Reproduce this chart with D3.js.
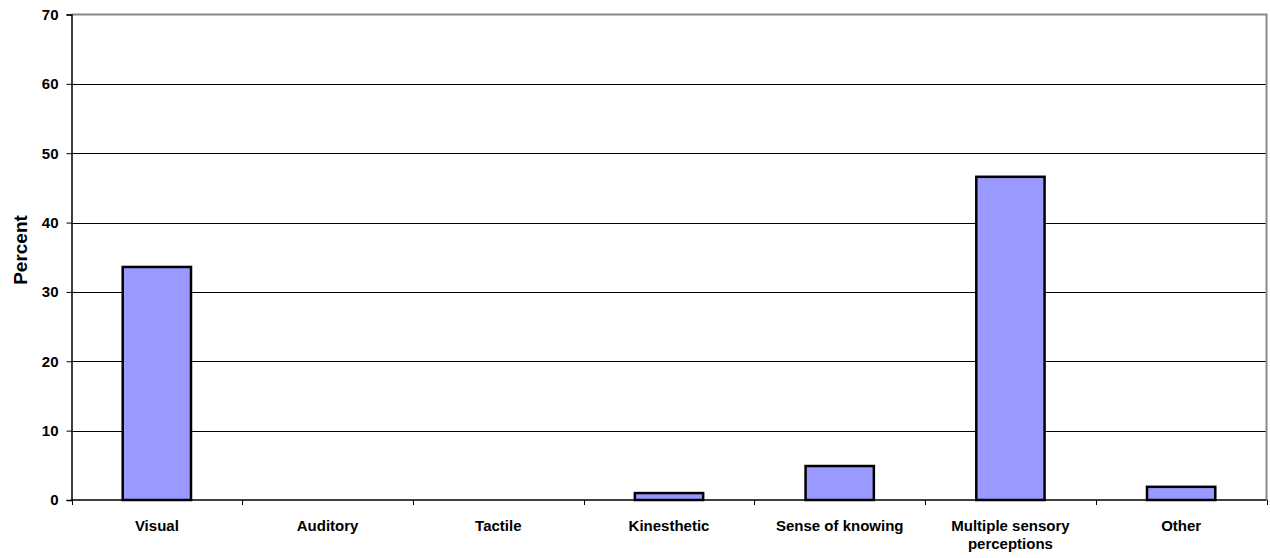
<!DOCTYPE html>
<html>
<head>
<meta charset="utf-8">
<script src="https://cdn.jsdelivr.net/npm/d3@7"></script>
<style>
  html, body { margin: 0; padding: 0; background: #fff; }
  svg { display: block; font-family: "Liberation Sans", Arial, sans-serif; }
</style>
</head>
<body>
<svg id="chart" width="1270" height="558"></svg>
<script>
// Share of respondents by type of sensory perception
const categories = ["Visual", "Auditory", "Tactile", "Kinesthetic", "Sense of knowing", "Multiple sensory perceptions", "Other"];
const percentValues = [33.6, 0, 0, 1.0, 4.9, 46.6, 1.9];
const yTicks = [0, 10, 20, 30, 40, 50, 60, 70];
const yTitle = "Percent";

const svg = d3.select("#chart");
const margin = { left: 71.5, right: 3.5, top: 14.5, bottom: 58 };
const W = 1270, H = 558;
const plotRight = W - margin.right;
const plotBottom = H - margin.bottom;

const x = d3.scaleBand().domain(categories).range([margin.left, plotRight]).paddingInner(0.6).paddingOuter(0.3);
const xOuter = d3.scaleBand().domain(categories).range([margin.left, plotRight]).padding(0);
const y = d3.scaleLinear().domain([0, 70]).range([plotBottom, margin.top]);

// horizontal grid lines
svg.append("g").selectAll("line").data(yTicks.filter(t => t > 0 && t < 70)).join("line")
  .attr("x1", margin.left).attr("x2", plotRight)
  .attr("y1", d => Math.round(y(d)) + 0.5).attr("y2", d => Math.round(y(d)) + 0.5)
  .attr("stroke", "#000").attr("stroke-width", 1);

// top and right frame
svg.append("path")
  .attr("d", `M${margin.left},${margin.top}H${plotRight}V${plotBottom}`)
  .attr("fill", "none").attr("stroke", "#888").attr("stroke-width", 2);

// bars
svg.append("g").selectAll("rect").data(categories.map((c, i) => ({ c, v: percentValues[i] })).filter(d => d.v > 0)).join("rect")
  .attr("x", d => x(d.c))
  .attr("width", x.bandwidth())
  .attr("y", d => y(d.v))
  .attr("height", d => y(0) - y(d.v))
  .attr("fill", "#9999ff").attr("stroke", "#000").attr("stroke-width", 2.5);

// y axis
const yAxis = svg.append("g").attr("transform", `translate(${margin.left},0)`)
  .call(d3.axisLeft(y).tickValues(yTicks).tickSize(5).tickPadding(8));
yAxis.select(".domain").attr("stroke", "#000").attr("stroke-width", 1.5);
yAxis.selectAll(".tick line").attr("stroke", "#000");
yAxis.selectAll("text").attr("font-size", 15).attr("font-weight", "bold").attr("fill", "#000")
  .attr("font-family", "Liberation Sans, Arial, sans-serif");

// x axis baseline with ticks between categories
svg.append("line").attr("x1", margin.left).attr("x2", plotRight)
  .attr("y1", plotBottom).attr("y2", plotBottom).attr("stroke", "#000").attr("stroke-width", 1.5);
const boundaries = categories.map(c => xOuter(c)).concat([plotRight]);
svg.append("g").selectAll("line").data(boundaries).join("line")
  .attr("x1", d => Math.round(d) + 0.5).attr("x2", d => Math.round(d) + 0.5)
  .attr("y1", plotBottom).attr("y2", plotBottom + 5)
  .attr("stroke", "#000");

// category labels, wrapped on two lines where needed
const wrapLabel = c => c === "Multiple sensory perceptions" ? ["Multiple sensory", "perceptions"] : [c];
svg.append("g").selectAll("text").data(categories).join("text")
  .attr("x", d => xOuter(d) + xOuter.bandwidth() / 2)
  .attr("y", plotBottom + 31)
  .attr("text-anchor", "middle").attr("font-size", 15).attr("font-weight", "bold")
  .each(function(d) {
    const lines = wrapLabel(d);
    d3.select(this).selectAll("tspan").data(lines).join("tspan")
      .attr("x", xOuter(d) + xOuter.bandwidth() / 2)
      .attr("dy", (l, i) => i === 0 ? 0 : 18)
      .text(l => l);
  });

// y axis title
svg.append("text")
  .attr("transform", `translate(27,250) rotate(-90)`)
  .attr("text-anchor", "middle").attr("font-size", 19).attr("font-weight", "bold")
  .text(yTitle);
</script>
</body>
</html>
